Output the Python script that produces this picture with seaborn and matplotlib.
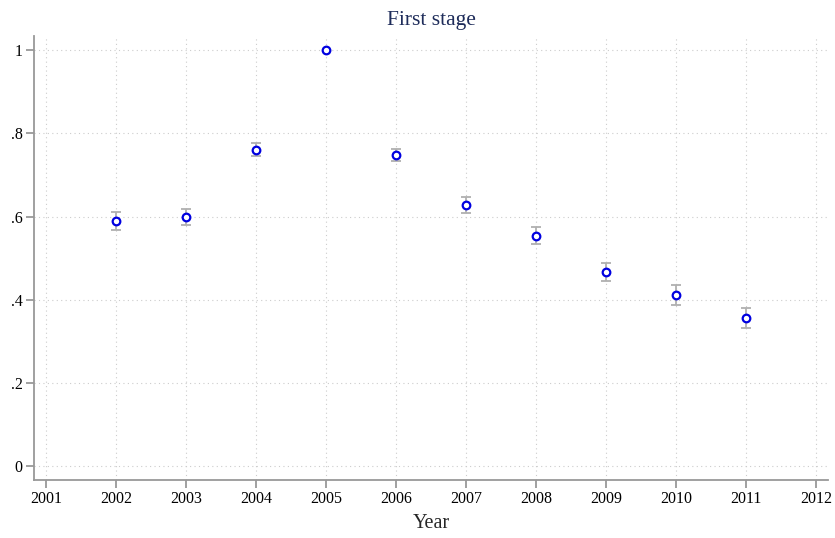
import matplotlib
matplotlib.use('Agg')
import matplotlib.pyplot as plt
import numpy as np
import pandas as pd
import seaborn as sns

years = [2002, 2003, 2004, 2005, 2006, 2007, 2008, 2009, 2010, 2011]
coef = [0.590, 0.599, 0.761, 1.000, 0.748, 0.628, 0.554, 0.466, 0.411, 0.355]
ci_low = [0.567, 0.580, 0.745, np.nan, 0.733, 0.609, 0.534, 0.444, 0.388, 0.332]
ci_high = [0.612, 0.619, 0.776, np.nan, 0.763, 0.647, 0.575, 0.488, 0.436, 0.379]

x_ticks = list(range(2001, 2013))
y_ticks = [0, 0.2, 0.4, 0.6, 0.8, 1.0]
y_labels = ['0', '.2', '.4', '.6', '.8', '1']

df = pd.DataFrame({'year': years, 'coef': coef, 'lo': ci_low, 'hi': ci_high})

sns.set_theme(style='white')
plt.rcParams['font.family'] = ['Liberation Serif', 'DejaVu Serif']

fig = plt.figure(figsize=(8.35, 5.38), dpi=100)
ax = fig.add_axes([0.0407, 0.1078, 0.9509, 0.825])

# confidence intervals
ax.errorbar(df['year'], df['coef'],
            yerr=[df['coef'] - df['lo'], df['hi'] - df['coef']],
            fmt='none', ecolor='#b0b0b0', elinewidth=1.3, capsize=3.5,
            capthick=1.3, zorder=2)

sns.scatterplot(data=df, x='year', y='coef', ax=ax, marker='o', s=30,
                facecolor='white', edgecolor='#0000e0', linewidth=1.6, zorder=3)

ax.set_xlim(2000.83, 2012.17)
ax.set_ylim(-0.034, 1.034)
ax.set_xticks(x_ticks)
ax.set_xticklabels([str(x) for x in x_ticks])
ax.set_yticks(y_ticks)
ax.set_yticklabels(y_labels)

ax.grid(True, linestyle=(0, (1, 3)), color='#cccccc', linewidth=0.8)
for side in ['top', 'right']:
  ax.spines[side].set_visible(False)
for side in ['left', 'bottom']:
  ax.spines[side].set_color('#999999')
  ax.spines[side].set_linewidth(1.3)

ax.tick_params(axis='both', which='major', direction='out', length=6, width=1.3,
               color='#999999', labelsize=11.5, labelcolor='black',
               bottom=True, left=True, pad=2)

ax.set_xlabel('Year', fontsize=14.5, labelpad=5)
ax.set_ylabel('')
ax.set_title('First stage', fontsize=15.5, color='#1e2c5a', pad=8)

fig.savefig('out.png', dpi=100)
